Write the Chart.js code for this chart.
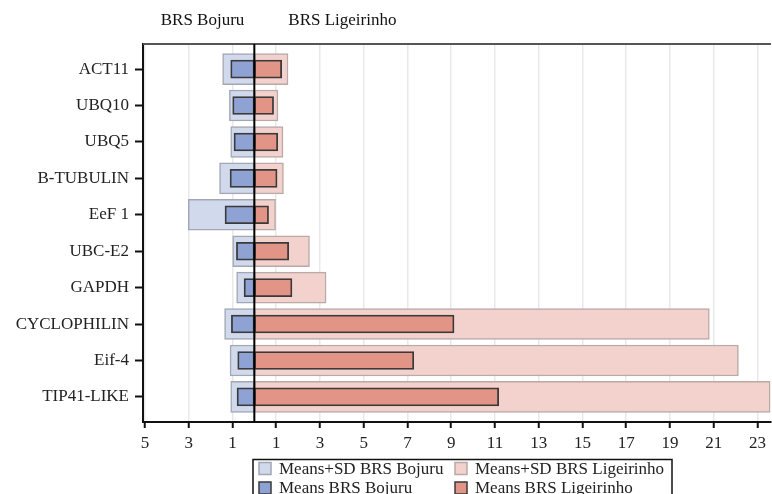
<!DOCTYPE html>
<html>
<head>
<meta charset="utf-8">
<script src="https://cdn.jsdelivr.net/npm/chart.js@4"></script>
<style>
  html, body { margin: 0; padding: 0; background: #fff; }
  #wrap { width: 772px; height: 494px; }
</style>
</head>
<body>
<div id="wrap"><canvas id="c" width="772" height="494"></canvas></div>
<script>
// Relative expression per reference gene, two cultivars (Bojuru drawn to the left of zero)
const genes = ['ACT11', 'UBQ10', 'UBQ5', 'B-TUBULIN', 'EeF 1', 'UBC-E2', 'GAPDH', 'CYCLOPHILIN', 'Eif-4', 'TIP41-LIKE'];
const bojuruMean       = [1.08, 0.99, 0.93, 1.11, 1.34, 0.82, 0.47, 1.05, 0.76, 0.79];
const bojuruMeanSD     = [1.45, 1.14, 1.08, 1.59, 3.02, 0.99, 0.81, 1.36, 1.11, 1.08];
const ligeirinhoMean   = [1.25, 0.88, 1.07, 1.04, 0.65, 1.57, 1.72, 9.13, 7.29, 11.17];
const ligeirinhoMeanSD = [1.54, 1.08, 1.31, 1.33, 0.97, 2.52, 3.28, 20.80, 22.13, 23.58];
const xTickValues = [-5, -3, -1, 1, 3, 5, 7, 9, 11, 13, 15, 17, 19, 21, 23];
const sideTitles = ['BRS Bojuru', 'BRS Ligeirinho'];
const seriesLabels = ['Means+SD BRS Bojuru', 'Means+SD BRS Ligeirinho', 'Means BRS Bojuru', 'Means BRS Ligeirinho'];

const FONT = '"Liberation Serif", "Times New Roman", serif';
Chart.defaults.font.family = FONT;
Chart.defaults.font.size = 17;
Chart.defaults.color = '#222';

const toPoints = (vals, sign) => vals.map((v, i) => ({ x: sign * v, y: i }));

// Extra drawing: top frame line, zero line, side titles and a two-column legend
const decorations = {
  id: 'decorations',
  afterDatasetsDraw(chart) {
    const { ctx, chartArea: a, scales: { x } } = chart;
    const x0 = x.getPixelForValue(0);
    ctx.save();
    ctx.strokeStyle = '#555';
    ctx.lineWidth = 2;
    ctx.beginPath();
    ctx.moveTo(a.left, a.top);
    ctx.lineTo(a.right, a.top);
    ctx.stroke();
    ctx.strokeStyle = '#000';
    ctx.lineWidth = 2;
    ctx.beginPath();
    ctx.moveTo(x0, a.top);
    ctx.lineTo(x0, a.bottom);
    ctx.stroke();
    ctx.restore();
  },
  afterDraw(chart) {
    const { ctx, scales: { x } } = chart;
    const x0 = x.getPixelForValue(0);
    ctx.save();
    ctx.font = '17px ' + FONT;
    ctx.fillStyle = '#111';
    ctx.textBaseline = 'middle';
    ctx.textAlign = 'right';
    ctx.fillText(sideTitles[0], x0 - 10, 21);
    ctx.textAlign = 'left';
    ctx.fillText(sideTitles[1], x0 + 34, 21);

    // legend
    ctx.strokeStyle = '#111';
    ctx.lineWidth = 1.5;
    ctx.strokeRect(253, 459.5, 419, 42);
    const cols = [259, 455];
    const rows = [468.5, 488];
    chart.data.datasets.forEach((d, k) => {
      const cx = cols[k % 2];
      const cy = rows[Math.floor(k / 2)];
      ctx.fillStyle = d.backgroundColor;
      ctx.fillRect(cx, cy - 6, 12, 12);
      ctx.strokeStyle = d.borderColor;
      ctx.lineWidth = 1.5;
      ctx.strokeRect(cx, cy - 6, 12, 12);
      ctx.fillStyle = '#222';
      ctx.textAlign = 'left';
      ctx.fillText(d.label, cx + 20, cy + 1);
    });
    ctx.restore();
  }
};

new Chart(document.getElementById('c'), {
  type: 'bar',
  data: {
    datasets: [
      { label: seriesLabels[0], data: toPoints(bojuruMeanSD, -1), order: 2,
        backgroundColor: '#d1d9ec', borderColor: '#a3a7b4', borderWidth: 1.5, barThickness: 31 },
      { label: seriesLabels[1], data: toPoints(ligeirinhoMeanSD, 1), order: 2,
        backgroundColor: '#f3d2ce', borderColor: '#b9a9a7', borderWidth: 1.5, barThickness: 31 },
      { label: seriesLabels[2], data: toPoints(bojuruMean, -1), order: 1,
        backgroundColor: '#8ea3d4', borderColor: '#3a3a3a', borderWidth: 1.8, barThickness: 18 },
      { label: seriesLabels[3], data: toPoints(ligeirinhoMean, 1), order: 1,
        backgroundColor: '#e29487', borderColor: '#3a3a3a', borderWidth: 1.8, barThickness: 18 }
    ]
  },
  options: {
    responsive: false,
    animation: false,
    indexAxis: 'y',
    layout: { padding: { top: 44, right: 1, left: 0, bottom: 0 } },
    datasets: { bar: { grouped: false, borderSkipped: false } },
    plugins: { legend: { display: false }, tooltip: { enabled: false } },
    scales: {
      x: {
        type: 'linear', min: -5.09, max: 23.62, offset: false,
        afterBuildTicks: s => { s.ticks = xTickValues.map(v => ({ value: v })); },
        afterFit: s => { s.height = 72; },
        ticks: { callback: v => String(Math.abs(v)), padding: 5, autoSkip: false, maxRotation: 0, color: '#222' },
        grid: { offset: false, color: '#e9e9e9', lineWidth: 1.5, tickColor: '#111', tickLength: 6, tickWidth: 2 },
        border: { color: '#111', width: 2 }
      },
      y: {
        type: 'linear', min: -0.69, max: 9.69, reverse: true, offset: false,
        afterBuildTicks: s => { s.ticks = genes.map((g, i) => ({ value: i })); },
        afterFit: s => { s.width = 143; },
        ticks: { callback: v => genes[v], padding: 6, autoSkip: false, color: '#222' },
        grid: { offset: false, drawOnChartArea: false, tickColor: '#111', tickLength: 8, tickWidth: 2 },
        border: { color: '#111', width: 2 }
      }
    }
  },
  plugins: [decorations]
});
</script>
</body>
</html>
